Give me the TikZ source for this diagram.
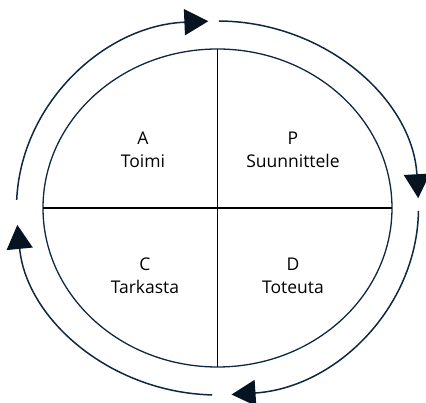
\documentclass[tikz,border=0pt]{standalone}
\usepackage{fontspec}
\setmainfont{Open Sans}
\usepackage{tikz}
\usetikzlibrary{arrows.meta}
\usepackage{xcolor}
\definecolor{navy}{RGB}{14,40,65}
\definecolor{tipcolor}{RGB}{5,20,32}

\begin{document}
\begin{tikzpicture}[x = 1pt, y = 1pt,
            cycle/.style = {navy, line width = 1.5pt, -{Triangle[length = 24pt, width = 26pt, fill = tipcolor, color = tipcolor]}},
            phase/.style = {align = center, font = \fontsize{17.5}{23}\selectfont}]
            \useasboundingbox (-217.5,-195) rectangle (208.5,208);
            \coordinate (O) at (0,0);
            \coordinate (N) at (0,159);
            \coordinate (S) at (0,-159);
            \coordinate (W) at (-174.5,0);
            \coordinate (E) at (174.5,0);
            \draw[navy, line width = 1.3pt] (O) ellipse [x radius = 174.5, y radius = 159];
            \draw[black, line width = 1.1pt] (N) -- (S);
            \draw[black, line width = 1.1pt] (W) -- (E);
            \draw[cycle] (177.5:201 and 187) arc [start angle = 177.5, end angle = 92.6, x radius = 201, y radius = 187];
            \draw[cycle] (89.6:201 and 187) arc [start angle = 89.6, end angle = 3, x radius = 201, y radius = 187];
            \draw[cycle] (-0.9:201 and 187) arc [start angle = -0.9, end angle = -86, x radius = 201, y radius = 187];
            \draw[cycle] (-91.5:201 and 187) arc [start angle = -91.5, end angle = -174.8, x radius = 201, y radius = 187];
            \node[phase] (act) at (-74.5,58) {A\\Toimi};
            \node[phase] (plan) at (75.5,58) {P\\Suunnittele};
            \node[phase] (check) at (-72.5,-68) {C\\Tarkasta};
            \node[phase] (do) at (75.5,-68) {D\\Toteuta};
        \end{tikzpicture}
\end{document}
